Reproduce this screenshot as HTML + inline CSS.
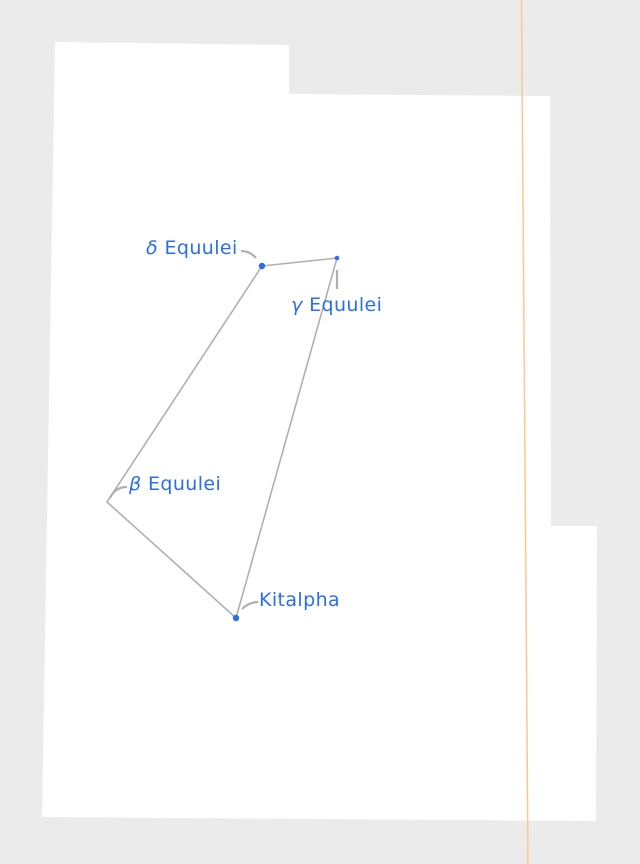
<!DOCTYPE html>
<html><head><style>html,body{margin:0;padding:0;background:#ebebeb;}svg{display:block}</style></head>
<body>
<svg width="640" height="864" viewBox="0 0 640 864" xmlns="http://www.w3.org/2000/svg">
<rect width="640" height="864" fill="#ebebeb"/>
<polygon points="55,42 289,45 289,94 550,96 551,526 597,526 596,821 42,817" fill="#fff"/>
<line x1="521.5" y1="0" x2="528" y2="864" stroke="#ffc58f" stroke-width="1.5"/>
<g stroke="#b0b0b0" stroke-width="1.6" fill="none">
<polyline points="262,266 337,258 236,618 107,502 262,266"/>
<path d="M241,251 Q250,251 256,258" stroke-width="2.2"/>
<path d="M337,270 L337,289" stroke-width="2.2"/>
<path d="M110,498 Q115,487 127,487" stroke-width="2.2"/>
<path d="M242,609 Q249,602 258,602" stroke-width="2.2"/>
</g>
<g fill="#2a6ef0">
<circle cx="262" cy="266" r="3.2"/>
<circle cx="337" cy="258" r="2.3"/>
<circle cx="236" cy="618" r="3.2"/>
</g>
<g fill="#2a6ef0" font-family="DejaVu Sans, Liberation Sans, sans-serif" font-size="19" letter-spacing="0.4">
<text x="146" y="254"><tspan font-style="italic">δ</tspan> Equulei</text>
<text x="291" y="311"><tspan font-style="italic">γ</tspan> Equulei</text>
<text x="129" y="490"><tspan font-style="italic">β</tspan> Equulei</text>
<text x="259" y="606">Kitalpha</text>
</g>
</svg>
</body></html>
